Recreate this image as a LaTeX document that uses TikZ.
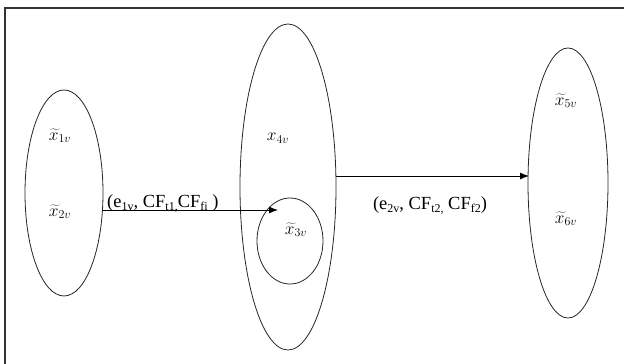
\documentclass[tikz,border=0pt]{standalone}
\usepackage{fontspec}
\setmainfont{Liberation Serif}
\usetikzlibrary{arrows.meta,shapes.geometric}
\newcommand{\lsub}[1]{\raisebox{-0.4ex}{\fontsize{12}{13}\selectfont #1}}
\newcommand{\tx}{\widetilde{x\mkern3mu}\mkern-3mu}
\begin{document}
\begin{tikzpicture}[x=1pt,y=-1pt,
  set/.style={draw=black!85,line width=0.8pt,ellipse,inner sep=0pt},
  lbl/.style={font=\fontsize{18.5}{20}\selectfont},
  var/.style={font=\fontsize{18}{20}\selectfont},
  conn/.style={-{Latex[length=9pt,width=7pt]},line width=0.9pt}]
\useasboundingbox (0,0) rectangle (624,364);
\draw[line width=1.4pt,black!80] (5,364) -- (5,8) -- (624,8);
% sets
\node[set,minimum width=78pt,minimum height=206pt] (s1) at (64,193) {};
\node[set,minimum width=96pt,minimum height=326pt] (s2) at (288,187) {};
\node[set,minimum width=66pt,minimum height=86pt] (s3) at (290,241) {};
\node[set,minimum width=80pt,minimum height=270pt] (s4) at (568,183) {};
\coordinate (a1) at (103,210);
\coordinate (b1) at (278,210);
\coordinate (a2) at (336,176);
\coordinate (b2) at (529,176);
% variables
\node[var] (x1) at (60,136) {$\tx_{1v}$};
\node[var] (x2) at (60,212) {$\tx_{2v}$};
\node[var] (x4) at (278,138) {$x_{4v}$};
\node[var] (x3) at (296,230) {$\tx_{3v}$};
\node[var] (x5) at (566,101) {$\tx_{5v}$};
\node[var] (x6) at (566,219) {$\tx_{6v}$};
% connectors
\draw[conn] (a1) -- (b1);
\draw[conn] (a2) -- (b2);
\node[lbl,anchor=base west,inner sep=0pt] (l1) at (107,207) {(e\lsub{1v}, CF\lsub{t1,}CF\lsub{fi} )};
\node[lbl,anchor=base,inner sep=0pt] (l2) at (430,209) {(e\lsub{2v}, CF\lsub{t2,} CF\lsub{f2})};
\end{tikzpicture}
\end{document}
